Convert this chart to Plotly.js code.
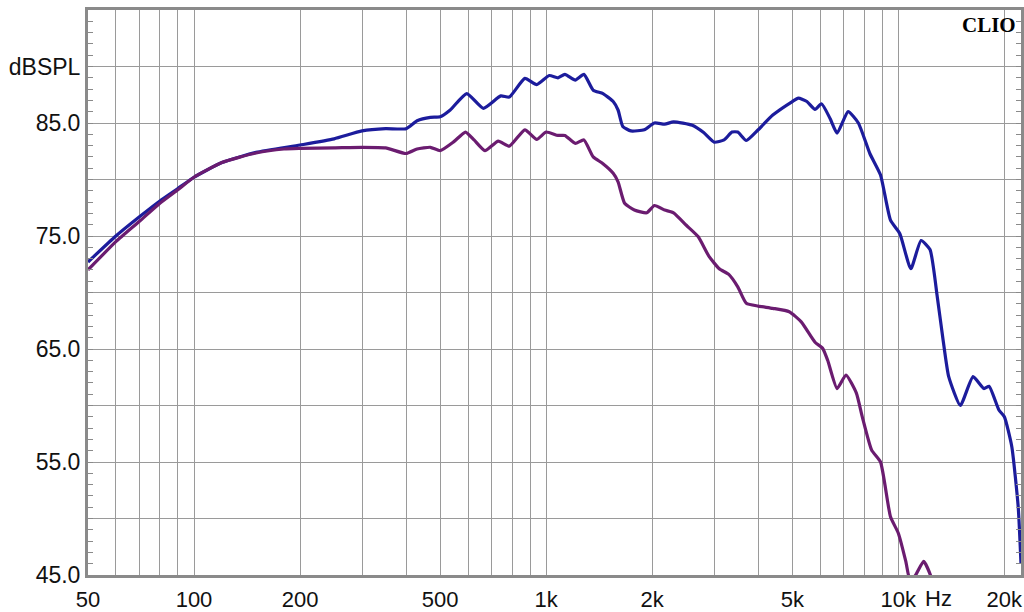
<!DOCTYPE html>
<html>
<head>
<meta charset="utf-8">
<script src="https://cdn.plot.ly/plotly-3.0.1.min.js"></script>
<style>html,body{margin:0;padding:0;background:#fff;}#chart{width:1024px;height:612px;}</style>
</head>
<body>
<div id="chart"></div>
<script>
// Frequencies (Hz) and levels (dBSPL)
const freqBlue = [50, 60, 70, 80, 90, 100, 120, 150, 200, 250, 300, 350, 400, 430, 469, 500, 534, 595, 663, 743, 786, 870, 940, 1020, 1080, 1130, 1210, 1280, 1360, 1450, 1550, 1600, 1650, 1740, 1900, 2030, 2170, 2300, 2600, 2800, 3000, 3200, 3370, 3500, 3700, 4000, 4400, 5000, 5200, 5500, 5800, 6050, 6400, 6700, 7200, 7700, 8300, 8900, 9500, 10100, 10850, 11600, 12300, 12900, 13400, 13900, 15000, 16300, 17500, 18100, 19300, 20000, 21000, 21900, 22300];
const levelBlue = [72.7, 75.0, 76.7, 78.1, 79.2, 80.2, 81.5, 82.4, 83.05, 83.6, 84.3, 84.5, 84.5, 85.2, 85.5, 85.55, 86.15, 87.6, 86.3, 87.4, 87.3, 88.95, 88.4, 89.2, 89.0, 89.3, 88.8, 89.3, 87.9, 87.6, 86.9, 86.15, 84.7, 84.3, 84.4, 85.0, 84.9, 85.1, 84.8, 84.15, 83.3, 83.5, 84.2, 84.2, 83.45, 84.4, 85.7, 86.9, 87.2, 86.9, 86.2, 86.7, 85.4, 84.1, 86.0, 85.0, 82.3, 80.4, 76.4, 75.2, 72.1, 74.6, 73.8, 69.6, 65.8, 62.55, 60.0, 62.55, 61.5, 61.7, 59.6, 59.0, 56.35, 51.0, 46.0];

const freqPurple = [50, 60, 70, 80, 90, 100, 120, 150, 180, 200, 250, 300, 350, 400, 430, 469, 500, 547, 590, 624, 670, 731, 786, 870, 940, 1000, 1080, 1130, 1210, 1280, 1360, 1450, 1550, 1600, 1670, 1780, 1930, 2030, 2170, 2300, 2500, 2700, 2900, 3100, 3300, 3500, 3700, 4000, 4400, 4900, 5300, 5800, 6100, 6300, 6700, 7100, 7600, 7900, 8400, 8900, 9500, 10000, 10500, 10800, 11200, 11800, 12400, 12700];
const levelPurple = [72.0, 74.5, 76.3, 77.9, 79.1, 80.2, 81.5, 82.35, 82.7, 82.75, 82.8, 82.85, 82.8, 82.3, 82.7, 82.85, 82.55, 83.35, 84.2, 83.5, 82.55, 83.4, 82.95, 84.4, 83.55, 84.2, 83.9, 83.9, 83.2, 83.5, 82.0, 81.4, 80.55, 79.8, 77.9, 77.3, 77.05, 77.7, 77.3, 77.05, 75.95, 74.95, 73.2, 72.1, 71.6, 70.5, 69.05, 68.8, 68.6, 68.3, 67.4, 65.6, 65.05, 64.0, 61.5, 62.7, 61.1, 59.0, 56.05, 55.0, 50.15, 48.7, 46.2, 44.5, 45.0, 46.2, 44.8, 43.5];

const xTickVals = [50, 60, 70, 80, 90, 100, 200, 300, 400, 500, 600, 700, 800, 900, 1000, 2000, 3000, 4000, 5000, 6000, 7000, 8000, 9000, 10000, 20000];
const xTickText = ["50", "", "", "", "", "100", "200", "", "", "500", "", "", "", "", "1k", "2k", "", "", "5k", "", "", "", "", "10k", "20k"];
const yTickVals = [45, 50, 55, 60, 65, 70, 75, 80, 85, 90, 95];
const yTickText = ["45.0", "", "55.0", "", "65.0", "", "75.0", "", "85.0", "dBSPL", "95.0"];

const traces = [
  {x: freqBlue, y: levelBlue, type: 'scatter', mode: 'lines', line: {color: '#1c1c9c', width: 3.2, shape: 'spline', smoothing: 0.5}, hoverinfo: 'skip'},
  {x: freqPurple, y: levelPurple, type: 'scatter', mode: 'lines', line: {color: '#6b1c70', width: 3.2, shape: 'spline', smoothing: 0.5}, hoverinfo: 'skip'}
];

const layout = {
  width: 1024, height: 612,
  margin: {l: 88, r: 3, t: 10, b: 37},
  paper_bgcolor: '#ffffff', plot_bgcolor: '#ffffff',
  showlegend: false,
  font: {family: 'Liberation Sans, Arial, sans-serif', color: '#111'},
  xaxis: {
    type: 'log', range: [Math.log10(50), Math.log10(22300)],
    tickmode: 'array', tickvals: xTickVals, ticktext: xTickText,
    showgrid: true, gridcolor: '#9a9a9a', gridwidth: 1,
    showline: true, linecolor: '#8a8a8a', linewidth: 3, mirror: true,
    ticks: '', zeroline: false, ticklabelstandoff: 3,
    tickfont: {size: 22, color: '#111'}
  },
  yaxis: {
    range: [45, 95],
    tickmode: 'array', tickvals: yTickVals, ticktext: yTickText,
    showgrid: true, gridcolor: '#9a9a9a', gridwidth: 1,
    showline: true, linecolor: '#8a8a8a', linewidth: 3, mirror: 'ticks',
    ticks: 'inside', ticklen: 5, tickcolor: '#8a8a8a', tickwidth: 1,
    minor: {dtick: 1, ticks: 'inside', ticklen: 5, tickcolor: '#8a8a8a', tickwidth: 1, showgrid: false},
    zeroline: false, ticklabelstandoff: 0,
    tickfont: {size: 23, color: '#111'}
  },
  annotations: [
    {xref: 'paper', yref: 'paper', x: 0.912, y: -0.042, xanchor: 'center', yanchor: 'middle', text: 'Hz', showarrow: false, font: {size: 22, color: '#111', family: 'Liberation Sans, Arial, sans-serif'}},
    {xref: 'paper', yref: 'paper', x: 1, y: 1, xanchor: 'right', yanchor: 'top', xshift: -3, yshift: -1, text: '<b>CLIO</b>', showarrow: false, font: {size: 21, color: '#000', family: 'Liberation Serif, Times New Roman, serif'}}
  ]
};

Plotly.newPlot('chart', traces, layout, {staticPlot: true, displayModeBar: false});
</script>
</body>
</html>
